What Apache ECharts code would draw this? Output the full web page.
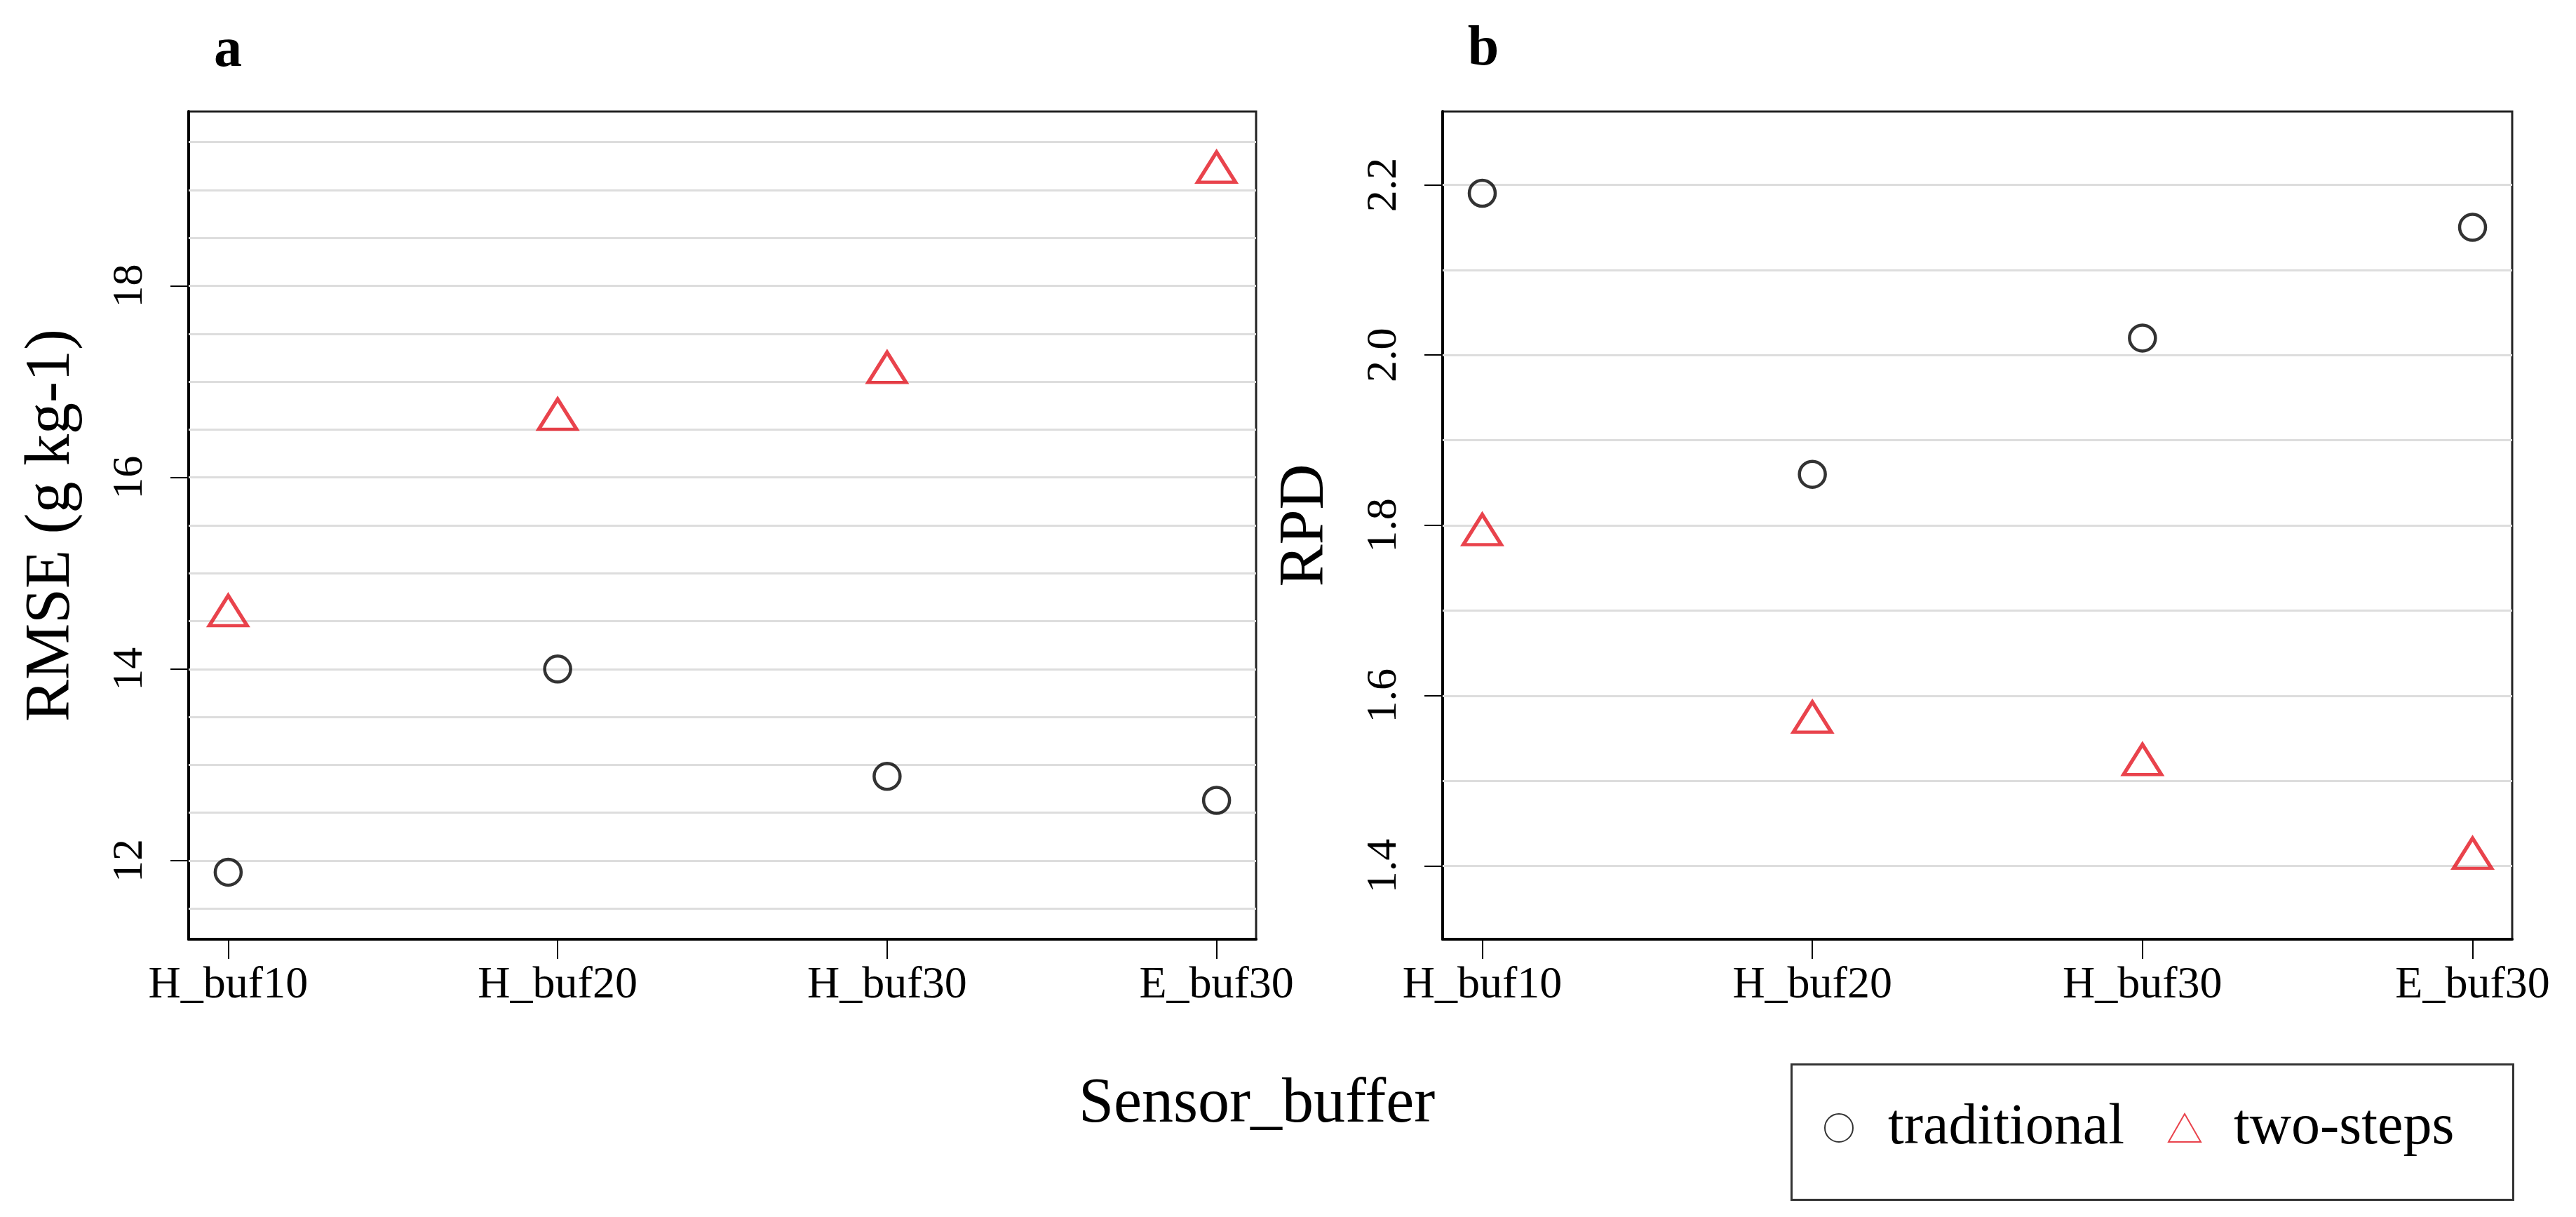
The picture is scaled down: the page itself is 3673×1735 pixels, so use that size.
<!DOCTYPE html>
<html>
<head>
<meta charset="utf-8">
<script src="https://cdn.jsdelivr.net/npm/echarts@6/dist/echarts.min.js"></script>
<style>
html,body{margin:0;padding:0;background:#fff;}
#chart{width:3673px;height:1735px;}
</style>
</head>
<body>
<div id="chart"></div>
<script>
// ---- data ----
const categories = ['H_buf10', 'H_buf20', 'H_buf30', 'E_buf30'];
const xPositions = [1, 2, 3, 4];
const rmseTraditional = [11.88, 14.00, 12.88, 12.63];
const rmseTwoSteps = [14.61, 16.66, 17.15, 19.24];
const rpdTraditional = [2.19, 1.86, 2.02, 2.15];
const rpdTwoSteps = [1.795, 1.575, 1.525, 1.415];
const rmseTicks = [12, 14, 16, 18];
const rpdTicks = [1.4, 1.6, 1.8, 2.0, 2.2];
const rmseGridLines = [11.5, 12, 12.5, 13, 13.5, 14, 14.5, 15, 15.5, 16, 16.5, 17, 17.5, 18, 18.5, 19, 19.5];
const rpdGridLines = [1.4, 1.5, 1.6, 1.7, 1.8, 1.9, 2.0, 2.1, 2.2];
const seriesNames = ['traditional', 'two-steps'];
const panelLetters = ['a', 'b'];
const xTitle = 'Sensor_buffer';
const yTitles = ['RMSE (g kg-1)', 'RPD'];

// ---- style ----
const SERIF = '"Liberation Serif", "DejaVu Serif", serif';
const RED = '#e3141f';
const chart = echarts.init(document.getElementById('chart'), null, {renderer: 'canvas'});

function xAxisFor(idx) {
  return {
    type: 'value', gridIndex: idx, min: 0.88, max: 4.12,
    axisLine: {show: true, onZero: false, lineStyle: {color: '#000', width: 4}},
    axisTick: {show: true, length: 28, customValues: xPositions, lineStyle: {color: '#000', width: 2}},
    axisLabel: {
      customValues: xPositions, margin: 34, fontFamily: SERIF, fontSize: 64, color: '#000',
      formatter: v => categories[Math.round(v) - 1]
    },
    splitLine: {show: false}
  };
}
function yAxisFor(idx, min, max, ticks, name, digits) {
  return {
    type: 'value', gridIndex: idx, min: min, max: max,
    name: name, nameLocation: 'middle', nameRotate: 90, nameGap: 150,
    nameTextStyle: {fontFamily: SERIF, fontSize: 90, color: '#000'},
    axisLine: {show: true, onZero: false, lineStyle: {color: '#000', width: 4}},
    axisTick: {show: true, length: 26, customValues: ticks, lineStyle: {color: '#000', width: 2}},
    axisLabel: {
      customValues: ticks, rotate: 90, margin: 52, fontFamily: SERIF, fontSize: 62, color: '#000',
      formatter: v => digits ? Number(v).toFixed(digits) : String(Math.round(v))
    },
    splitLine: {show: false}
  };
}
function gridSeries(idx, lines) {
  return {
    type: 'line', xAxisIndex: idx, yAxisIndex: idx, data: [], silent: true, z: 1,
    markLine: {
      silent: true, symbol: ['none', 'none'], label: {show: false}, animation: false,
      lineStyle: {color: '#dddddd', width: 3, type: 'solid'},
      data: lines.map(v => ({yAxis: v}))
    }
  };
}
function pts(vals) { return vals.map((v, i) => [xPositions[i], v]); }
function tradSeries(idx, vals) {
  return {
    name: seriesNames[0], type: 'scatter', xAxisIndex: idx, yAxisIndex: idx, z: 5,
    symbol: 'circle', symbolSize: 37,
    itemStyle: {color: 'transparent', borderColor: '#000', borderWidth: 4.5},
    data: pts(vals)
  };
}
function twoSeries(idx, vals) {
  return {
    name: seriesNames[1], type: 'scatter', xAxisIndex: idx, yAxisIndex: idx, z: 5,
    symbol: 'triangle', symbolSize: [54, 43],
    itemStyle: {color: 'transparent', borderColor: RED, borderWidth: 5},
    data: pts(vals)
  };
}

const option = {
  backgroundColor: '#fff',
  animation: false,
  grid: [
    {left: 269, top: 159, width: 1522, height: 1180, show: true, borderColor: '#222', borderWidth: 3, backgroundColor: '#fff', containLabel: false},
    {left: 2057, top: 159, width: 1525, height: 1180, show: true, borderColor: '#222', borderWidth: 3, backgroundColor: '#fff', containLabel: false}
  ],
  xAxis: [xAxisFor(0), xAxisFor(1)],
  yAxis: [
    yAxisFor(0, 11.18, 19.82, rmseTicks, yTitles[0], 0),
    yAxisFor(1, 1.314, 2.286, rpdTicks, yTitles[1], 1)
  ],
  legend: {
    data: seriesNames,
    left: 2601, top: 1567, padding: 0,
    itemWidth: 46, itemHeight: 40, itemGap: 62,
    textStyle: {fontFamily: SERIF, fontSize: 82, color: '#000', padding: [0, 0, 0, 42]}
  },
  graphic: [
    {type: 'rect', left: 2552, top: 1515, shape: {width: 1029, height: 193}, style: {fill: 'none', stroke: '#333', lineWidth: 3}, z: 0},
    {type: 'text', x: 1792, y: 1620, style: {text: xTitle, fontFamily: SERIF, fontSize: 90, fill: '#000', align: 'center', verticalAlign: 'bottom'}},
    {type: 'text', x: 325, y: 113, style: {text: panelLetters[0], fontFamily: SERIF, fontSize: 80, fontWeight: 'bold', fill: '#000', align: 'center', verticalAlign: 'bottom'}},
    {type: 'text', x: 2115, y: 111, style: {text: panelLetters[1], fontFamily: SERIF, fontSize: 80, fontWeight: 'bold', fill: '#000', align: 'center', verticalAlign: 'bottom'}}
  ],
  series: [
    gridSeries(0, rmseGridLines),
    gridSeries(1, rpdGridLines),
    tradSeries(0, rmseTraditional),
    twoSeries(0, rmseTwoSteps),
    tradSeries(1, rpdTraditional),
    twoSeries(1, rpdTwoSteps)
  ]
};
chart.setOption(option);
</script>
</body>
</html>
